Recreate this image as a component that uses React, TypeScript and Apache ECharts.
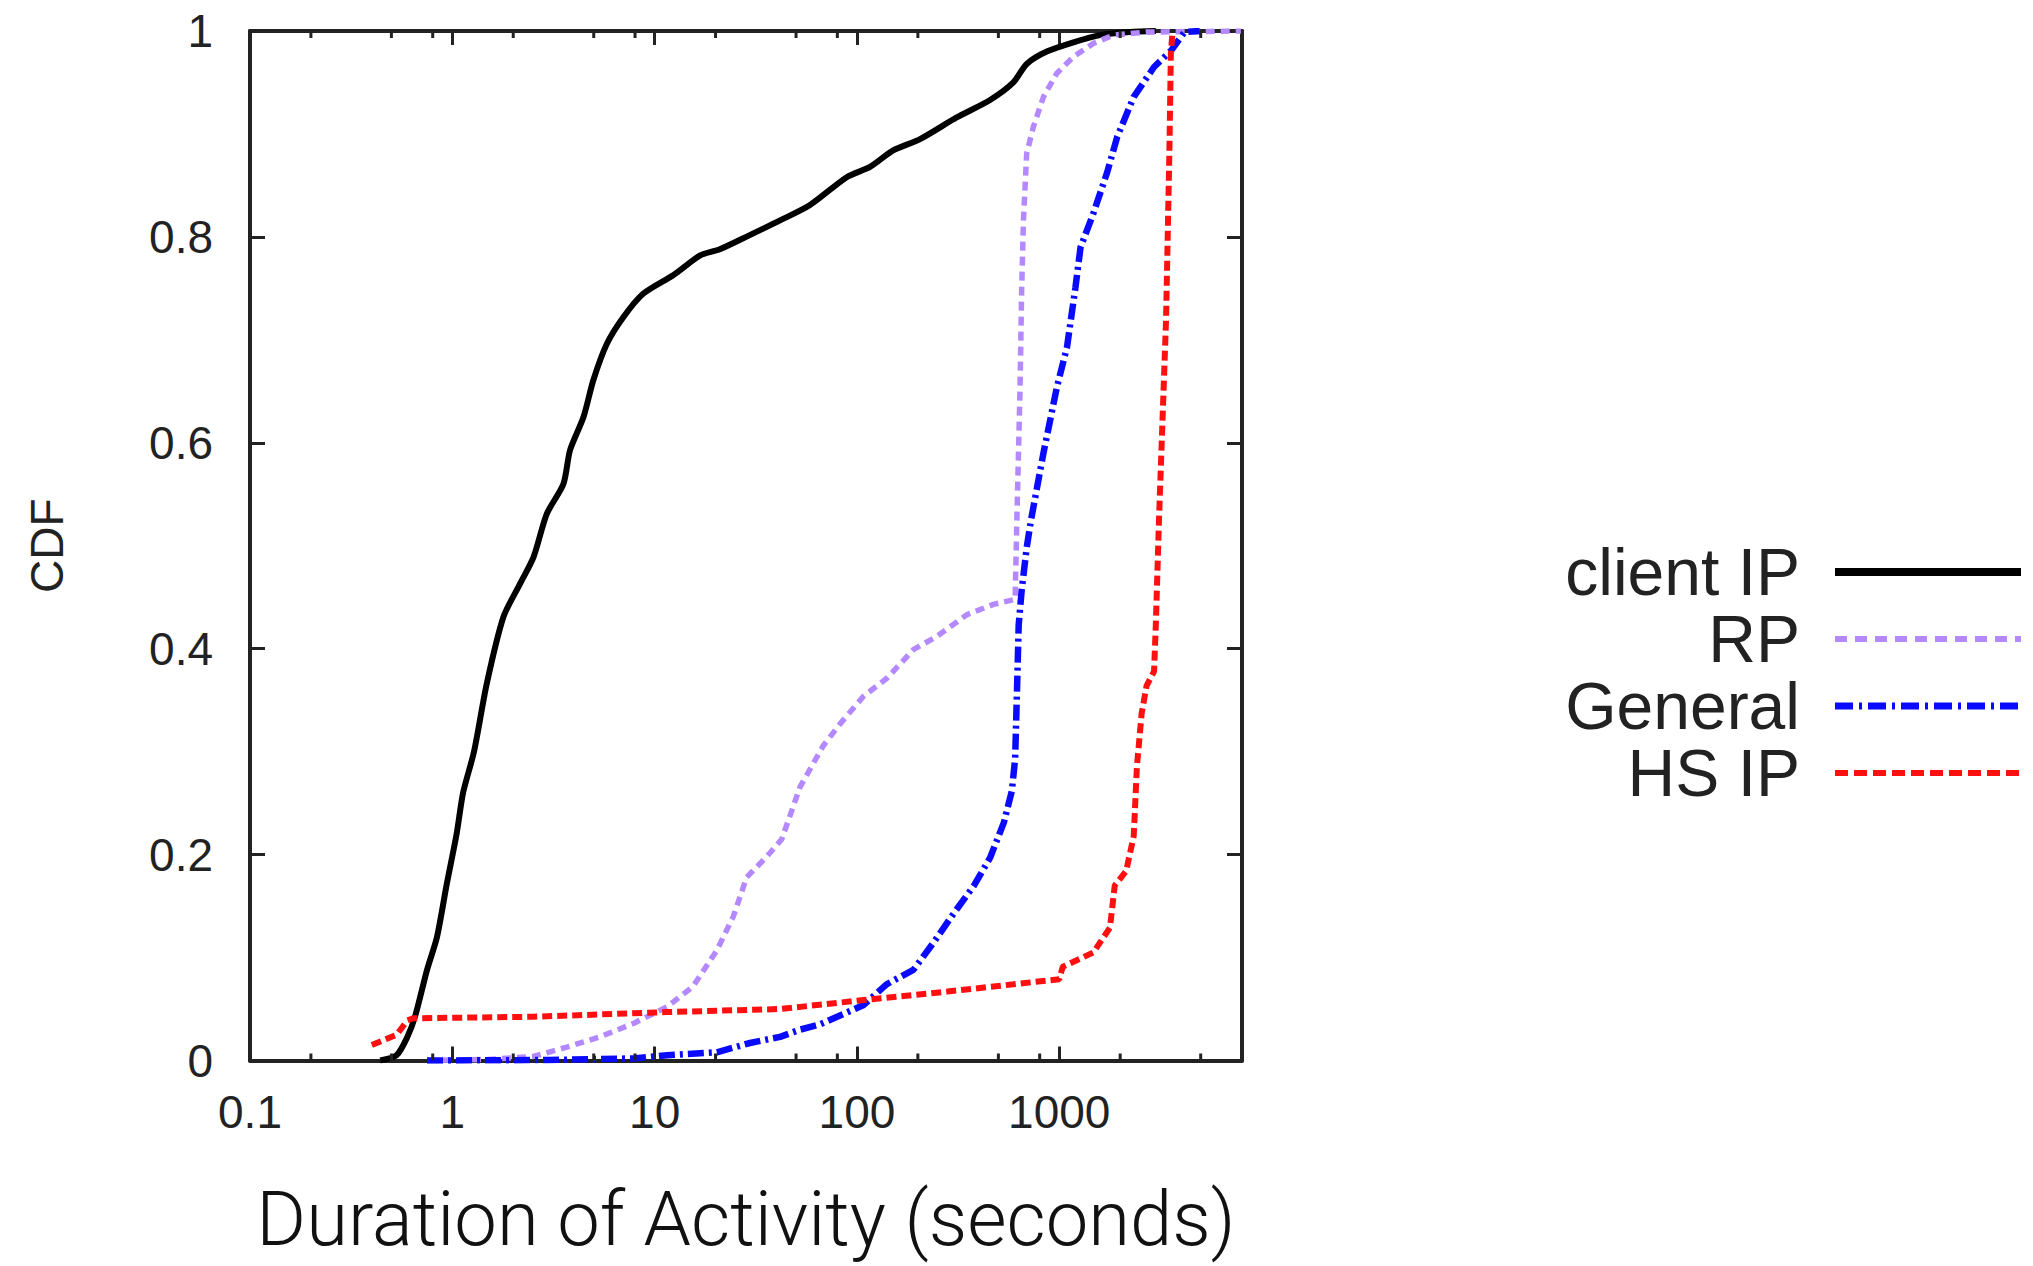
import React, { useEffect, useRef } from "react";
import * as echarts from "echarts";

// ---- data ----
const seriesNames = ["client IP", "RP", "General", "HS IP"];
const xTickLabels = ["0.1", "1", "10", "100", "1000"];
const minorTickValues = [0.2, 0.5, 0.8, 2, 5, 8, 20, 50, 80, 200, 500, 800, 2000, 5000];

const clientIP: [number, number][] = [
  [0.44, 0], [0.53, 0.005], [0.6, 0.023], [0.655, 0.043], [0.75, 0.088], [0.84, 0.12],
  [0.94, 0.172], [1.05, 0.22], [1.13, 0.26], [1.28, 0.3], [1.48, 0.366], [1.79, 0.431],
  [2.16, 0.463], [2.52, 0.489], [2.93, 0.531], [3.54, 0.56], [3.82, 0.593], [4.45, 0.625],
  [4.98, 0.661], [5.8, 0.696], [7.0, 0.722], [8.8, 0.745], [12.4, 0.763], [16.8, 0.782],
  [21, 0.788], [29, 0.801], [41.7, 0.816], [58.6, 0.831], [89, 0.858], [116, 0.868],
  [151, 0.884], [205, 0.895], [311, 0.916], [455, 0.933], [593, 0.95], [690, 0.968],
  [867, 0.98], [1175, 0.989], [1594, 0.996], [2240, 0.999], [3000, 1],
];

const rp: [number, number][] = [
  [0.75, 0], [1.5, 0.001], [2.52, 0.004], [3.68, 0.013], [5.37, 0.023], [7.85, 0.036],
  [11.5, 0.052], [15.5, 0.072], [20.3, 0.107], [24.5, 0.14], [28.5, 0.178], [35.8, 0.198],
  [42.5, 0.215], [52.4, 0.266], [68.3, 0.306], [82.5, 0.327], [108, 0.354], [140, 0.371],
  [190, 0.399], [248, 0.412], [349, 0.433], [472, 0.443], [605, 0.448], [617, 0.525],
  [640, 0.654], [652, 0.751], [665, 0.816], [690, 0.881], [745, 0.907], [835, 0.936],
  [973, 0.959], [1176, 0.975], [1475, 0.988], [1850, 0.996], [2700, 0.999], [7900, 1],
];

const general: [number, number][] = [
  [0.75, 0], [3, 0.0005], [7.85, 0.002], [11.5, 0.005], [20.3, 0.008], [29.6, 0.017],
  [41.7, 0.023], [52.4, 0.03], [65.5, 0.035], [108, 0.054], [140, 0.074], [190, 0.088],
  [240, 0.115], [301, 0.143], [379, 0.17], [455, 0.197], [532, 0.231], [583, 0.262],
  [605, 0.293], [617, 0.354], [630, 0.423], [652, 0.457], [690, 0.498], [725, 0.525],
  [835, 0.59], [973, 0.654], [1092, 0.693], [1202, 0.751], [1274, 0.79], [1475, 0.823],
  [1720, 0.862], [1932, 0.897], [2333, 0.936], [2940, 0.965], [3570, 0.981], [4160, 0.999],
  [4950, 1],
];

const hsIP: [number, number][] = [
  [0.4, 0.015], [0.53, 0.025], [0.6, 0.039], [0.64, 0.041], [2.52, 0.0425], [11.5, 0.047],
  [41.7, 0.05], [111, 0.059], [280, 0.067], [593, 0.074], [1000, 0.079], [1040, 0.091],
  [1475, 0.105], [1780, 0.129], [1880, 0.17], [2140, 0.184], [2333, 0.218], [2420, 0.286],
  [2553, 0.337], [2700, 0.364], [2940, 0.378], [3000, 0.423], [3110, 0.525], [3370, 0.719],
  [3500, 0.881], [3560, 0.978], [3630, 1],
];

const FONT = "'Liberation Sans', Arial, Helvetica, sans-serif";
const FRAME = "#222";
const COLORS = ["#000000", "#b489ff", "#0a0aff", "#ff1010"];

export default function App() {
  const ref = useRef<HTMLDivElement>(null);

  useEffect(() => {
    if (!ref.current) return;
    const chart = echarts.init(ref.current, null, { renderer: "svg" });

    const xFormatter = (v: number) => {
      const s = String(Number(Number(v).toPrecision(6)));
      return xTickLabels.includes(s) ? s : "";
    };

    const commonX = {
      type: "log",
      logBase: 10,
      min: 0.1,
      max: 8000,
      splitLine: { show: false },
      axisLine: { show: true, onZero: false, lineStyle: { color: FRAME, width: 4 } },
      axisTick: { show: true, inside: true, length: 14, lineStyle: { color: FRAME, width: 3 } },
    };
    const commonY = {
      type: "value",
      min: 0,
      max: 1,
      interval: 0.2,
      splitLine: { show: false },
      axisLine: { show: true, onZero: false, lineStyle: { color: FRAME, width: 4 } },
      axisTick: { show: true, inside: true, length: 15, lineStyle: { color: FRAME, width: 3 } },
    };

    const line = (
      name: string,
      data: [number, number][],
      color: string,
      type: any,
      width: number,
      smooth: number
    ) => ({
      name,
      type: "line",
      data,
      showSymbol: false,
      symbol: "none",
      smooth,
      lineStyle: { color, width, type, cap: "butt" },
      itemStyle: { color },
      z: 3,
    });

    const legendItem = (i: number, width: number, type: any) => ({
      name: seriesNames[i],
      itemStyle: { opacity: 0 },
      lineStyle: { color: COLORS[i], width, type, opacity: 1 },
    });

    chart.setOption({
      animation: false,
      backgroundColor: "#fff",
      grid: { left: 250, right: 791, top: 31, bottom: 205.5, containLabel: false },
      xAxis: [
        {
          ...commonX,
          position: "bottom",
          axisLabel: {
            show: true,
            formatter: xFormatter,
            showMaxLabel: false,
            fontSize: 46,
            fontFamily: FONT,
            color: "#222",
            margin: 28,
          },
          name: "Duration of Activity (seconds)",
          nameLocation: "middle",
          nameGap: 120,
          nameTextStyle: {
            fontSize: 76,
            fontFamily: "Roboto, 'Liberation Sans', sans-serif",
            fontWeight: 300,
            color: "#111",
            lineHeight: 76,
          },
        },
        { ...commonX, position: "top", axisLabel: { show: false } },
      ],
      yAxis: [
        {
          ...commonY,
          position: "left",
          axisLabel: { show: true, fontSize: 46, fontFamily: FONT, color: "#222", margin: 37 },
          name: "CDF",
          nameLocation: "middle",
          nameGap: 180,
          nameTextStyle: { fontSize: 46, fontFamily: FONT, color: "#222", lineHeight: 46 },
        },
        { ...commonY, position: "right", axisLabel: { show: false } },
      ],
      legend: {
        data: [
          legendItem(0, 8, "solid"),
          legendItem(1, 6, [12, 8]),
          legendItem(2, 7, [18, 6, 3, 6]),
          legendItem(3, 6, [13, 6]),
        ],
        orient: "vertical",
        right: 3,
        top: 534,
        align: "right",
        itemWidth: 186,
        itemHeight: 14,
        itemGap: 1,
        selectedMode: false,
        textStyle: {
          fontSize: 66,
          fontFamily: FONT,
          color: "#222",
          lineHeight: 62,
          padding: [0, 30, 0, 0],
        },
      },
      series: [
        line(seriesNames[0], clientIP, COLORS[0], "solid", 6, 0.25),
        line(seriesNames[1], rp, COLORS[1], [9, 6], 5.5, 0),
        line(seriesNames[2], general, COLORS[2], [16, 5, 3, 5], 6.5, 0),
        line(seriesNames[3], hsIP, COLORS[3], [10, 5], 6, 0),
        {
          name: "minorTicks",
          type: "custom",
          xAxisIndex: 0,
          yAxisIndex: 0,
          data: minorTickValues.map((v) => [v, 0]),
          encode: { x: 0, y: 1 },
          silent: true,
          z: 4,
          renderItem: (params: any, api: any) => {
            const v = api.value(0);
            const b = api.coord([v, 0]);
            const t = api.coord([v, 1]);
            const st = { stroke: FRAME, lineWidth: 3 };
            return {
              type: "group",
              children: [
                { type: "line", shape: { x1: b[0], y1: b[1], x2: b[0], y2: b[1] - 7 }, style: st },
                { type: "line", shape: { x1: t[0], y1: t[1], x2: t[0], y2: t[1] + 7 }, style: st },
              ],
            };
          },
        },
      ],
    });

    return () => chart.dispose();
  }, []);

  return (
    <div
      ref={ref}
      style={{ position: "absolute", left: 0, top: 0, width: 2033, height: 1266, background: "#fff" }}
    />
  );
}
